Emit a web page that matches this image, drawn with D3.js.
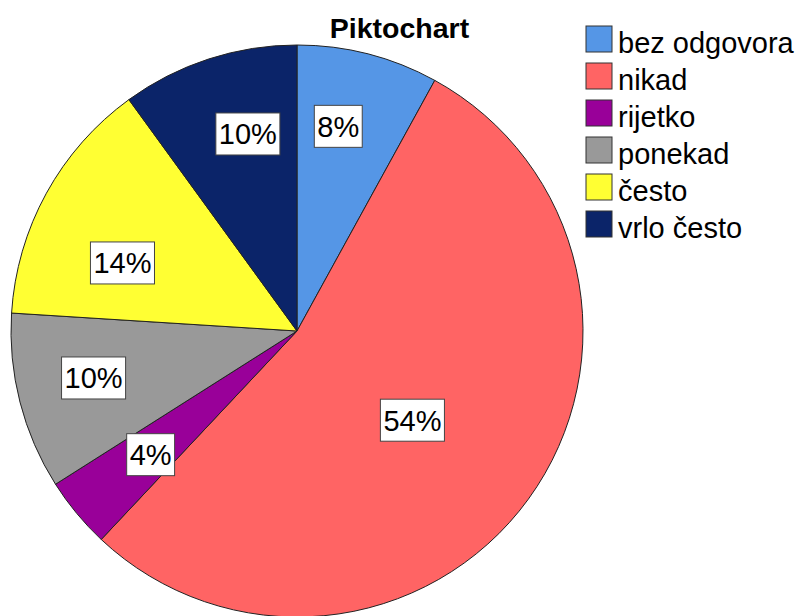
<!DOCTYPE html>
<html>
<head>
<meta charset="utf-8">
<script src="https://cdn.jsdelivr.net/npm/d3@7"></script>
<style>
  html, body { margin: 0; padding: 0; background: #fff; }
  svg { display: block; font-family: "Liberation Sans", Arial, sans-serif; }
</style>
</head>
<body>
<svg id="chart" width="798" height="616"></svg>
<script>
const title = "Piktochart";
const categories = ["bez odgovora", "nikad", "rijetko", "ponekad", "često", "vrlo često"];
const values = [8, 54, 4, 10, 14, 10];
const labels = ["8%", "54%", "4%", "10%", "14%", "10%"];
const colors = ["#5596E6", "#FF6464", "#990099", "#999999", "#FFFF33", "#0B2469"];

// label placement (layout only): radius fraction and angle nudge in degrees
const labelRadius = [0.73, 0.51, 0.67, 0.73, 0.655, 0.71];
const labelNudge = [-3, 1.7, -0.6, 1.4, -7.5, 4];

const svg = d3.select("#chart");
const cx = 297, cy = 331, r = 286;

const data = categories.map((c, i) => ({ cat: c, value: values[i], label: labels[i], color: colors[i], lr: labelRadius[i], ln: labelNudge[i] }));

const pie = d3.pie().value(d => d.value).sort(null);
const arcs = pie(data);
const arc = d3.arc().innerRadius(0).outerRadius(r);

const g = svg.append("g").attr("transform", `translate(${cx},${cy})`);

g.selectAll("path.slice")
  .data(arcs)
  .join("path")
  .attr("class", "slice")
  .attr("d", arc)
  .attr("fill", d => d.data.color)
  .attr("stroke", "#222")
  .attr("stroke-width", 1);

const labelG = g.selectAll("g.lbl")
  .data(arcs)
  .join("g")
  .attr("class", "lbl")
  .attr("transform", d => {
    const a = (d.startAngle + d.endAngle) / 2 + d.data.ln * Math.PI / 180;
    const f = d.data.lr;
    return `translate(${Math.sin(a) * r * f},${-Math.cos(a) * r * f})`;
  });

labelG.each(function(d) {
  const sel = d3.select(this);
  const t = sel.append("text")
    .attr("text-anchor", "middle")
    .attr("dy", "0.36em")
    .attr("font-size", 29)
    .attr("fill", "#000")
    .text(d.data.label);
  const w = t.node().getComputedTextLength() + 6;
  const h = 42;
  sel.insert("rect", "text")
    .attr("x", -w / 2)
    .attr("y", -h / 2)
    .attr("width", w)
    .attr("height", h)
    .attr("fill", "#fff")
    .attr("stroke", "#444")
    .attr("stroke-width", 1);
});

svg.append("text")
  .attr("x", 399.5)
  .attr("y", 38)
  .attr("text-anchor", "middle")
  .attr("font-size", 28.5)
  .attr("font-weight", "bold")
  .attr("fill", "#000")
  .text(title);

const legY = d3.scalePoint().domain(categories).range([26, 26 + 37 * 5]);
const items = svg.append("g").selectAll("g.item")
  .data(data)
  .join("g")
  .attr("class", "item")
  .attr("transform", d => `translate(586,${legY(d.cat)})`);
items.append("rect")
  .attr("width", 26)
  .attr("height", 26)
  .attr("fill", d => d.color)
  .attr("stroke", "#333")
  .attr("stroke-width", 1);
items.append("text")
  .attr("x", 32)
  .attr("y", 27)
  .attr("font-size", 29)
  .attr("fill", "#000")
  .text(d => d.cat);
</script>
</body>
</html>
